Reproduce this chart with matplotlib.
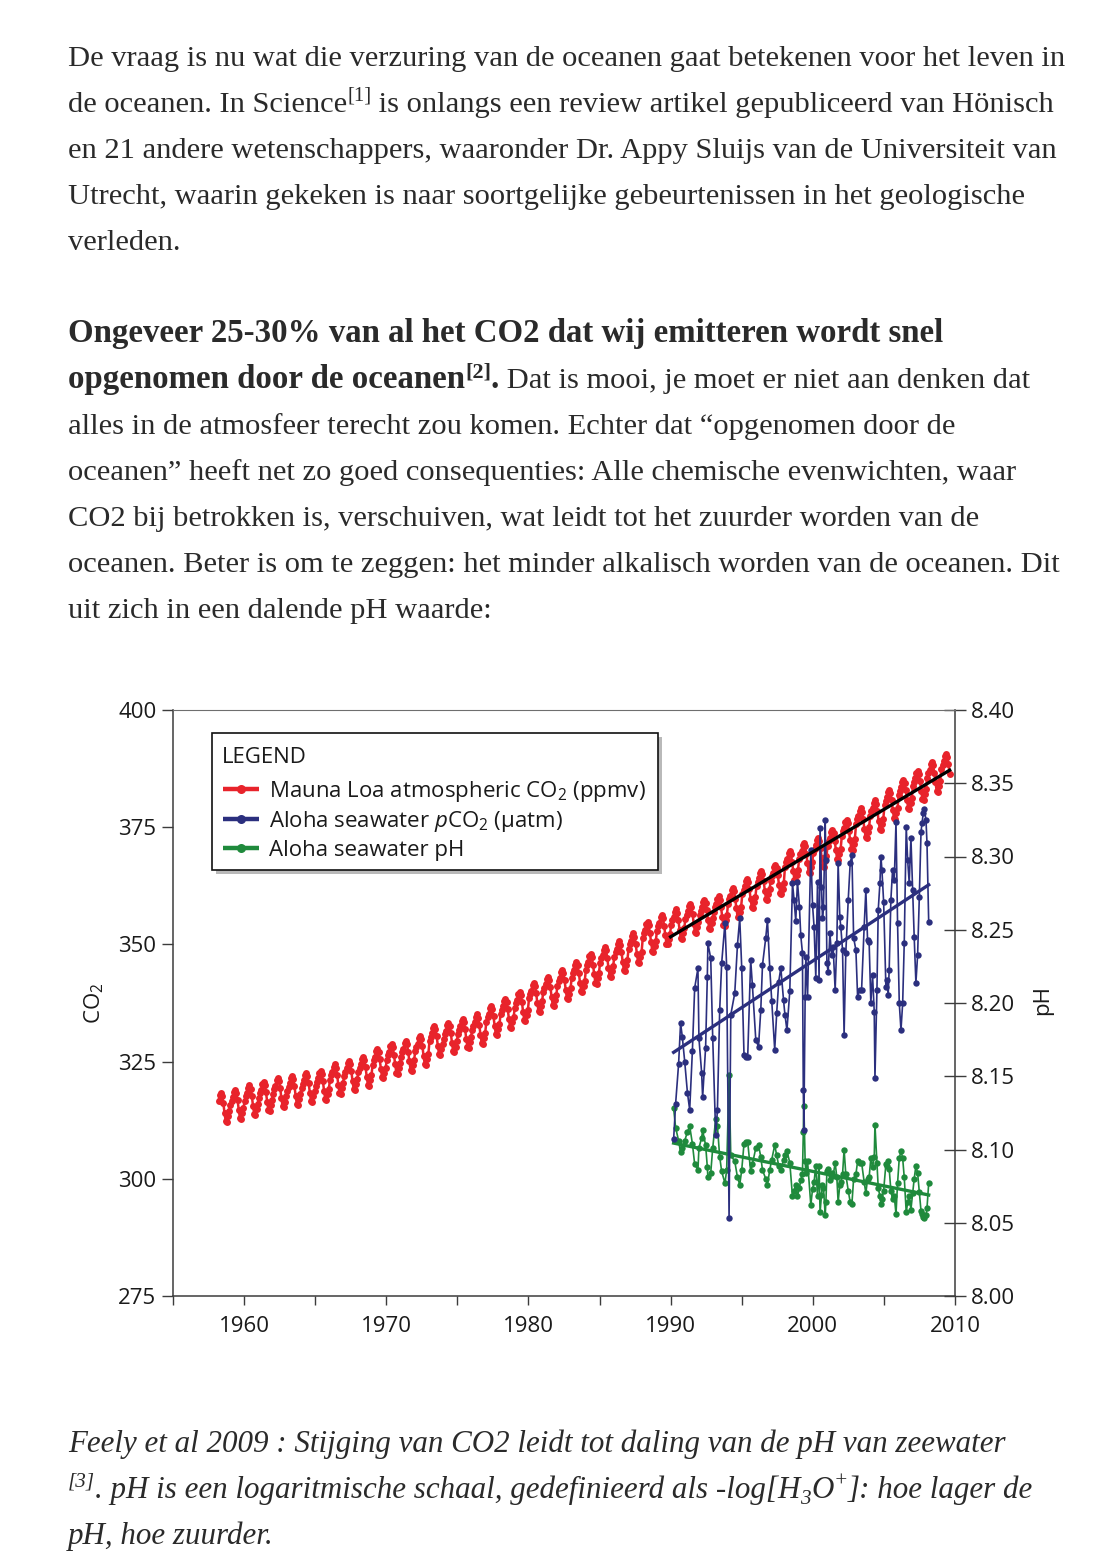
"""Blog page snippet: Mauna Loa CO2 vs Aloha seawater pCO2 and pH (Feely et al. 2009)."""
import matplotlib

matplotlib.use("Agg")
import matplotlib.pyplot as plt
import numpy as np
from matplotlib.lines import Line2D
from matplotlib.patches import Rectangle

W, H = 1112, 1566
SERIF = "Liberation Serif"
SANS = "Open Sans"
INK = "#2a2a2a"
RED, BLUE, GREEN = "#e8232b", "#2b2f7e", "#1f8a3c"

plt.rcParams["font.family"] = [SANS, "DejaVu Sans"]
plt.rcParams["mathtext.fontset"] = "custom"
plt.rcParams["mathtext.rm"] = SANS
plt.rcParams["mathtext.it"] = SANS + ":italic"

# ---- data -----------------------------------------------------------------
# Mauna Loa annual means (ppmv), 1958 = Mar-Dec only
mlo_years = list(range(1958, 2010))
mlo_annual = [315.3, 315.98, 316.91, 317.64, 318.45, 318.99, 319.62, 320.04, 321.37, 322.18,
              323.05, 324.62, 325.68, 326.32, 327.46, 329.68, 330.19, 331.13, 332.03, 333.84,
              335.41, 336.84, 338.76, 340.12, 341.48, 343.15, 344.87, 346.35, 347.61, 349.31,
              351.69, 353.20, 354.45, 355.70, 356.54, 357.21, 358.96, 360.97, 362.74, 363.88,
              366.84, 368.54, 369.71, 371.32, 373.45, 375.98, 377.70, 379.98, 382.09, 384.02,
              385.83, 387.64]
# mean seasonal cycle, Jan..Dec (ppmv)
mlo_season = [-0.3, 0.67, 1.40, 2.56, 3.02, 2.35, 0.83, -1.28, -3.01, -3.22, -1.98, -0.88]
mlo_first = (1958, 3)
mlo_last = (2009, 8)

# Station ALOHA (HOT) cruises
aloha_dates = [
    1990.21, 1990.35, 1990.56, 1990.70, 1990.82, 1990.99, 1991.18, 1991.34, 1991.53, 1991.69,
    1991.92, 1991.99, 1992.18, 1992.25, 1992.46, 1992.58, 1992.62, 1992.82, 1992.96, 1993.17,
    1993.29, 1993.45, 1993.59, 1993.82, 1993.94, 1994.11, 1994.23, 1994.51, 1994.70, 1994.86,
    1995.00, 1995.16, 1995.28, 1995.42, 1995.63, 1995.75, 1995.99, 1996.18, 1996.34, 1996.46,
    1996.69, 1996.81, 1996.97, 1997.11, 1997.32, 1997.46, 1997.60, 1997.75, 1997.94, 1998.04,
    1998.18, 1998.38, 1998.57, 1998.68, 1998.80, 1998.92, 1999.06, 1999.15, 1999.27, 1999.33,
    1999.37, 1999.46, 1999.51, 1999.63, 1999.86, 1999.98, 2000.09, 2000.21, 2000.33, 2000.44,
    2000.51, 2000.61, 2000.68, 2000.75, 2000.87, 2000.92, 2000.99, 2001.08, 2001.20, 2001.32,
    2001.43, 2001.57, 2001.69, 2001.78, 2001.90, 2001.97, 2002.09, 2002.20, 2002.32, 2002.49,
    2002.63, 2002.75, 2002.87, 2003.03, 2003.15, 2003.29, 2003.43, 2003.61, 2003.73, 2003.85,
    2003.96, 2004.08, 2004.20, 2004.32, 2004.37, 2004.51, 2004.60, 2004.72, 2004.79, 2004.86,
    2004.98, 2005.14, 2005.21, 2005.30, 2005.37, 2005.49, 2005.61, 2005.73, 2005.85, 2005.96,
    2006.08, 2006.20, 2006.32, 2006.43, 2006.57, 2006.67, 2006.78, 2006.90, 2007.02, 2007.13,
    2007.25, 2007.37, 2007.49, 2007.61, 2007.68, 2007.77, 2007.84, 2007.96, 2008.03, 2008.15]
aloha_pco2 = [
    308.4, 316.0, 324.5, 333.2, 330.3, 325.0, 318.4, 314.7, 327.3, 340.7,
    344.9, 330.0, 322.6, 317.4, 328.0, 343.1, 350.3, 347.0, 330.0, 309.3,
    314.7, 336.0, 346.0, 354.6, 345.2, 291.6, 335.0, 339.6, 349.9, 355.6,
    345.0, 326.4, 326.0, 326.0, 346.7, 341.3, 329.6, 328.2, 336.0, 345.6,
    351.4, 355.2, 345.0, 338.0, 327.5, 335.4, 342.0, 345.0, 338.1, 335.0,
    331.7, 340.0, 363.1, 359.5, 355.0, 363.4, 358.0, 352.0, 348.2, 319.0,
    310.4, 338.8, 347.3, 338.8, 370.1, 358.4, 353.7, 342.8, 363.3, 342.4,
    374.8, 362.2, 355.6, 358.0, 376.5, 368.0, 346.0, 344.1, 352.4, 347.7,
    349.4, 340.3, 350.3, 367.4, 355.8, 353.7, 348.8, 330.7, 348.2, 359.5,
    367.4, 369.0, 351.4, 348.8, 338.8, 340.3, 340.3, 353.7, 361.6, 350.9,
    350.5, 337.5, 343.5, 335.6, 321.5, 340.3, 357.3, 363.1, 368.7, 365.9,
    359.1, 340.9, 342.4, 339.2, 344.5, 359.5, 365.9, 363.7, 376.1, 354.6,
    337.5, 331.7, 337.5, 350.3, 375.1, 368.0, 363.1, 372.7, 361.6, 351.6,
    341.8, 347.7, 360.1, 374.0, 375.9, 378.0, 378.9, 376.5, 371.6, 354.8]
aloha_ph = [
    8.128, 8.115, 8.106, 8.098, 8.101, 8.106, 8.112, 8.116, 8.104, 8.090,
    8.086, 8.101, 8.108, 8.113, 8.103, 8.088, 8.081, 8.084, 8.101, 8.121,
    8.116, 8.095, 8.085, 8.077, 8.086, 8.151, 8.096, 8.092, 8.081, 8.076,
    8.086, 8.104, 8.105, 8.105, 8.085, 8.090, 8.101, 8.103, 8.095, 8.086,
    8.080, 8.076, 8.086, 8.093, 8.103, 8.096, 8.089, 8.086, 8.093, 8.096,
    8.099, 8.091, 8.068, 8.072, 8.076, 8.068, 8.074, 8.079, 8.083, 8.112,
    8.130, 8.092, 8.084, 8.092, 8.062, 8.073, 8.078, 8.089, 8.068, 8.089,
    8.057, 8.069, 8.076, 8.074, 8.055, 8.064, 8.085, 8.087, 8.079, 8.084,
    8.082, 8.091, 8.081, 8.064, 8.076, 8.078, 8.083, 8.100, 8.083, 8.072,
    8.064, 8.063, 8.080, 8.083, 8.092, 8.091, 8.091, 8.078, 8.070, 8.080,
    8.081, 8.094, 8.088, 8.095, 8.117, 8.091, 8.074, 8.068, 8.063, 8.066,
    8.072, 8.090, 8.089, 8.092, 8.087, 8.072, 8.066, 8.068, 8.056, 8.077,
    8.094, 8.099, 8.094, 8.081, 8.057, 8.064, 8.068, 8.059, 8.070, 8.080,
    8.089, 8.084, 8.071, 8.058, 8.056, 8.054, 8.053, 8.055, 8.060, 8.077]

co2_ticks = [275, 300, 325, 350, 375, 400]
ph_ticks = [8.00, 8.05, 8.10, 8.15, 8.20, 8.25, 8.30, 8.35, 8.40]
decade_ticks = [1960, 1970, 1980, 1990, 2000, 2010]
half_decade_ticks = [1955, 1965, 1975, 1985, 1995, 2005]

legend_labels = ["Mauna Loa atmospheric CO$_2$ (ppmv)",
                 "Aloha seawater $p$CO$_2$ (\u00b5atm)",
                 "Aloha seawater pH"]

para1 = ["De vraag is nu wat die verzuring van de oceanen gaat betekenen voor het leven in",
         None,
         "en 21 andere wetenschappers, waaronder Dr. Appy Sluijs van de Universiteit van",
         "Utrecht, waarin gekeken is naar soortgelijke gebeurtenissen in het geologische",
         "verleden."]
para2_bold = "Ongeveer 25-30% van al het CO2 dat wij emitteren wordt snel"
para2 = ["alles in de atmosfeer terecht zou komen. Echter dat \u201copgenomen door de",
         "oceanen\u201d heeft net zo goed consequenties: Alle chemische evenwichten, waar",
         "CO2 bij betrokken is, verschuiven, wat leidt tot het zuurder worden van de",
         "oceanen. Beter is om te zeggen: het minder alkalisch worden van de oceanen. Dit",
         "uit zich in een dalende pH waarde:"]
caption1 = "Feely et al 2009 : Stijging van CO2 leidt tot daling van de pH van zeewater"
caption3 = "pH, hoe zuurder."

# ---- monthly Mauna Loa series from annual means + seasonal cycle ----------
mlo_t, mlo_v = [], []
for yr, mean in zip(mlo_years, mlo_annual):
    for m in range(1, 13):
        if (yr, m) < mlo_first or (yr, m) > mlo_last:
            continue
        mlo_t.append(yr + (m - 0.5) / 12)
        mlo_v.append(mean + mlo_season[m - 1])
mlo_t = np.array(mlo_t)
mlo_v = np.array(mlo_v)
at = np.array(aloha_dates)

fig = plt.figure(figsize=(W / 100, H / 100), dpi=100)
rend = fig.canvas.get_renderer()


def fx(x):
    return x / W


def fy(y):
    return 1 - y / H


def text_w(s, **kw):
    t = fig.text(0, 0, s + "|", **kw)
    w = t.get_window_extent(rend).width
    t.set_text("|")
    w -= t.get_window_extent(rend).width
    t.remove()
    return w


def runs(x, base, parts):
    """Draw styled pieces one after another on one baseline (pixel coords)."""
    for s, kw, dy in parts:
        fig.text(fx(x), fy(base - dy), s, va="baseline", ha="left", color=INK, **kw)
        x += text_w(s, **kw)


# ---- body text ------------------------------------------------------------
s_reg = 20 * 997 / text_w(para1[0], family=SERIF, size=20)
s_bold = 20 * 877 / text_w(para2_bold, family=SERIF, weight="bold", size=20)
s_it = 20 * 940 / text_w(caption1, family=SERIF, style="italic", size=20)
reg = dict(family=SERIF, size=s_reg)
bold = dict(family=SERIF, size=s_bold, weight="bold")
ital = dict(family=SERIF, size=s_it, style="italic")
sup_reg = dict(family=SERIF, size=s_reg * 0.68)
sup_bold = dict(family=SERIF, size=s_bold * 0.68, weight="bold")
sup_it = dict(family=SERIF, size=s_it * 0.68, style="italic")

X0 = 68
base = 66
for i, line in enumerate(para1):
    y = base + 46 * i
    if line is None:
        runs(X0, y, [("de oceanen. In Science", reg, 0), ("[1]", sup_reg, 11),
                     (" is onlangs een review artikel gepubliceerd van H\u00f6nisch", reg, 0)])
    else:
        fig.text(fx(X0), fy(y), line, va="baseline", ha="left", color=INK, **reg)

base = 342
fig.text(fx(X0), fy(base), para2_bold, va="baseline", ha="left", color=INK, **bold)
runs(X0, base + 46, [("opgenomen door de oceanen", bold, 0), ("[2]", sup_bold, 11),
                     (".", bold, 0), (" Dat is mooi, je moet er niet aan denken dat", reg, 0)])
for i, line in enumerate(para2):
    fig.text(fx(X0), fy(base + 46 * (i + 2)), line, va="baseline", ha="left", color=INK, **reg)

base = 1452
fig.text(fx(X0), fy(base), caption1, va="baseline", ha="left", color=INK, **ital)
runs(X0, base + 46, [("[3]", sup_it, 11),
                     (". pH is een logaritmische schaal, gedefinieerd als -log[H", ital, 0),
                     ("3", sup_it, -6), ("O", ital, 0), ("+", sup_it, 11),
                     ("]: hoe lager de", ital, 0)])
fig.text(fx(X0), fy(base + 92), caption3, va="baseline", ha="left", color=INK, **ital)

# ---- chart ----------------------------------------------------------------
ax = fig.add_axes([fx(173), fy(1296), (955 - 173) / W, (1296 - 710) / H])
ax2 = ax.twinx()
ax.set_zorder(ax2.get_zorder() + 1)
ax.patch.set_visible(False)

ax2.plot(at, aloha_ph, color=GREEN, lw=1.2, marker="o", ms=4.6, mew=0)
gfit = np.polyfit(at, aloha_ph, 1)
ax2.plot([at[0], at[-1]], np.polyval(gfit, [at[0], at[-1]]), color=GREEN, lw=2.4)

ax.plot(mlo_t, mlo_v, color=RED, lw=1.8, marker="o", ms=5.0, mew=0)
ax.plot(at, aloha_pco2, color=BLUE, lw=1.2, marker="o", ms=4.6, mew=0)
bfit = np.polyfit(at, aloha_pco2, 1)
ax.plot([at[0], at[-1]], np.polyval(bfit, [at[0], at[-1]]), color=BLUE, lw=2.4)
sel = mlo_t >= 1990
kfit = np.polyfit(mlo_t[sel], mlo_v[sel], 1)
ax.plot([1990, mlo_t[-1]], np.polyval(kfit, [1990, mlo_t[-1]]), color="black", lw=2.4)

ax.set_xlim(1955, 2010)
ax.set_ylim(275, 400)
ax2.set_ylim(8.0, 8.4)
ax.set_xticks(decade_ticks)
ax.set_xticks(half_decade_ticks, minor=True)
ax.set_yticks(co2_ticks)
ax2.set_yticks(ph_ticks)
ax2.yaxis.set_major_formatter("{x:.2f}")

TC = "#1a1a1a"
SC = "#3c3c3c"
ax.tick_params(axis="x", which="both", direction="out", length=6.5, width=1.0,
               pad=8, labelsize=16, color=SC, labelcolor=TC)
ax.tick_params(axis="y", direction="out", length=8, width=1.0, pad=4,
               labelsize=16, color=SC, labelcolor=TC)
ax2.tick_params(axis="y", direction="inout", length=16.5, width=1.0, pad=3.5,
                labelsize=16, color=SC, labelcolor=TC)
for sp in ("left", "bottom"):
    ax.spines[sp].set_color(SC)
    ax.spines[sp].set_linewidth(1.1)
ax.spines["top"].set_color("#6e6e6e")
ax.spines["right"].set_visible(False)
for sp in ("left", "bottom", "top"):
    ax2.spines[sp].set_visible(False)
ax2.spines["right"].set_color(SC)
ax2.spines["right"].set_linewidth(1.1)

fig.text(fx(94), fy(1003), "CO$_2$", rotation=90, ha="center", va="center",
         fontsize=16, color=TC)
fig.text(fx(1043), fy(1000), "pH", rotation=90, ha="center", va="center",
         fontsize=16, color=TC)

# ---- legend box -----------------------------------------------------------
fig.add_artist(Rectangle((fx(216), fy(874)), 446 / W, 137 / H, transform=fig.transFigure,
                         facecolor="#9c9c9c", edgecolor="none", alpha=0.7))
fig.add_artist(Rectangle((fx(212), fy(870)), 446 / W, 137 / H, transform=fig.transFigure,
                         facecolor="white", edgecolor="#111111", lw=1.2))
fig.text(fx(222), fy(763), "LEGEND", va="baseline", ha="left", fontsize=16, color=TC)
for lab, col, yc in zip(legend_labels, [RED, BLUE, GREEN], [789, 819, 848]):
    fig.add_artist(Line2D([fx(223), fx(259)], [fy(yc), fy(yc)], transform=fig.transFigure,
                          color=col, lw=3.2, solid_capstyle="butt"))
    fig.add_artist(Line2D([fx(241)], [fy(yc)], transform=fig.transFigure, color=col,
                          marker="o", ms=6.5, mew=0, ls="none"))
    fig.text(fx(269), fy(yc + 8), lab, va="baseline", ha="left", fontsize=16, color=TC)

fig.savefig("out.png", dpi=100, facecolor="white")
